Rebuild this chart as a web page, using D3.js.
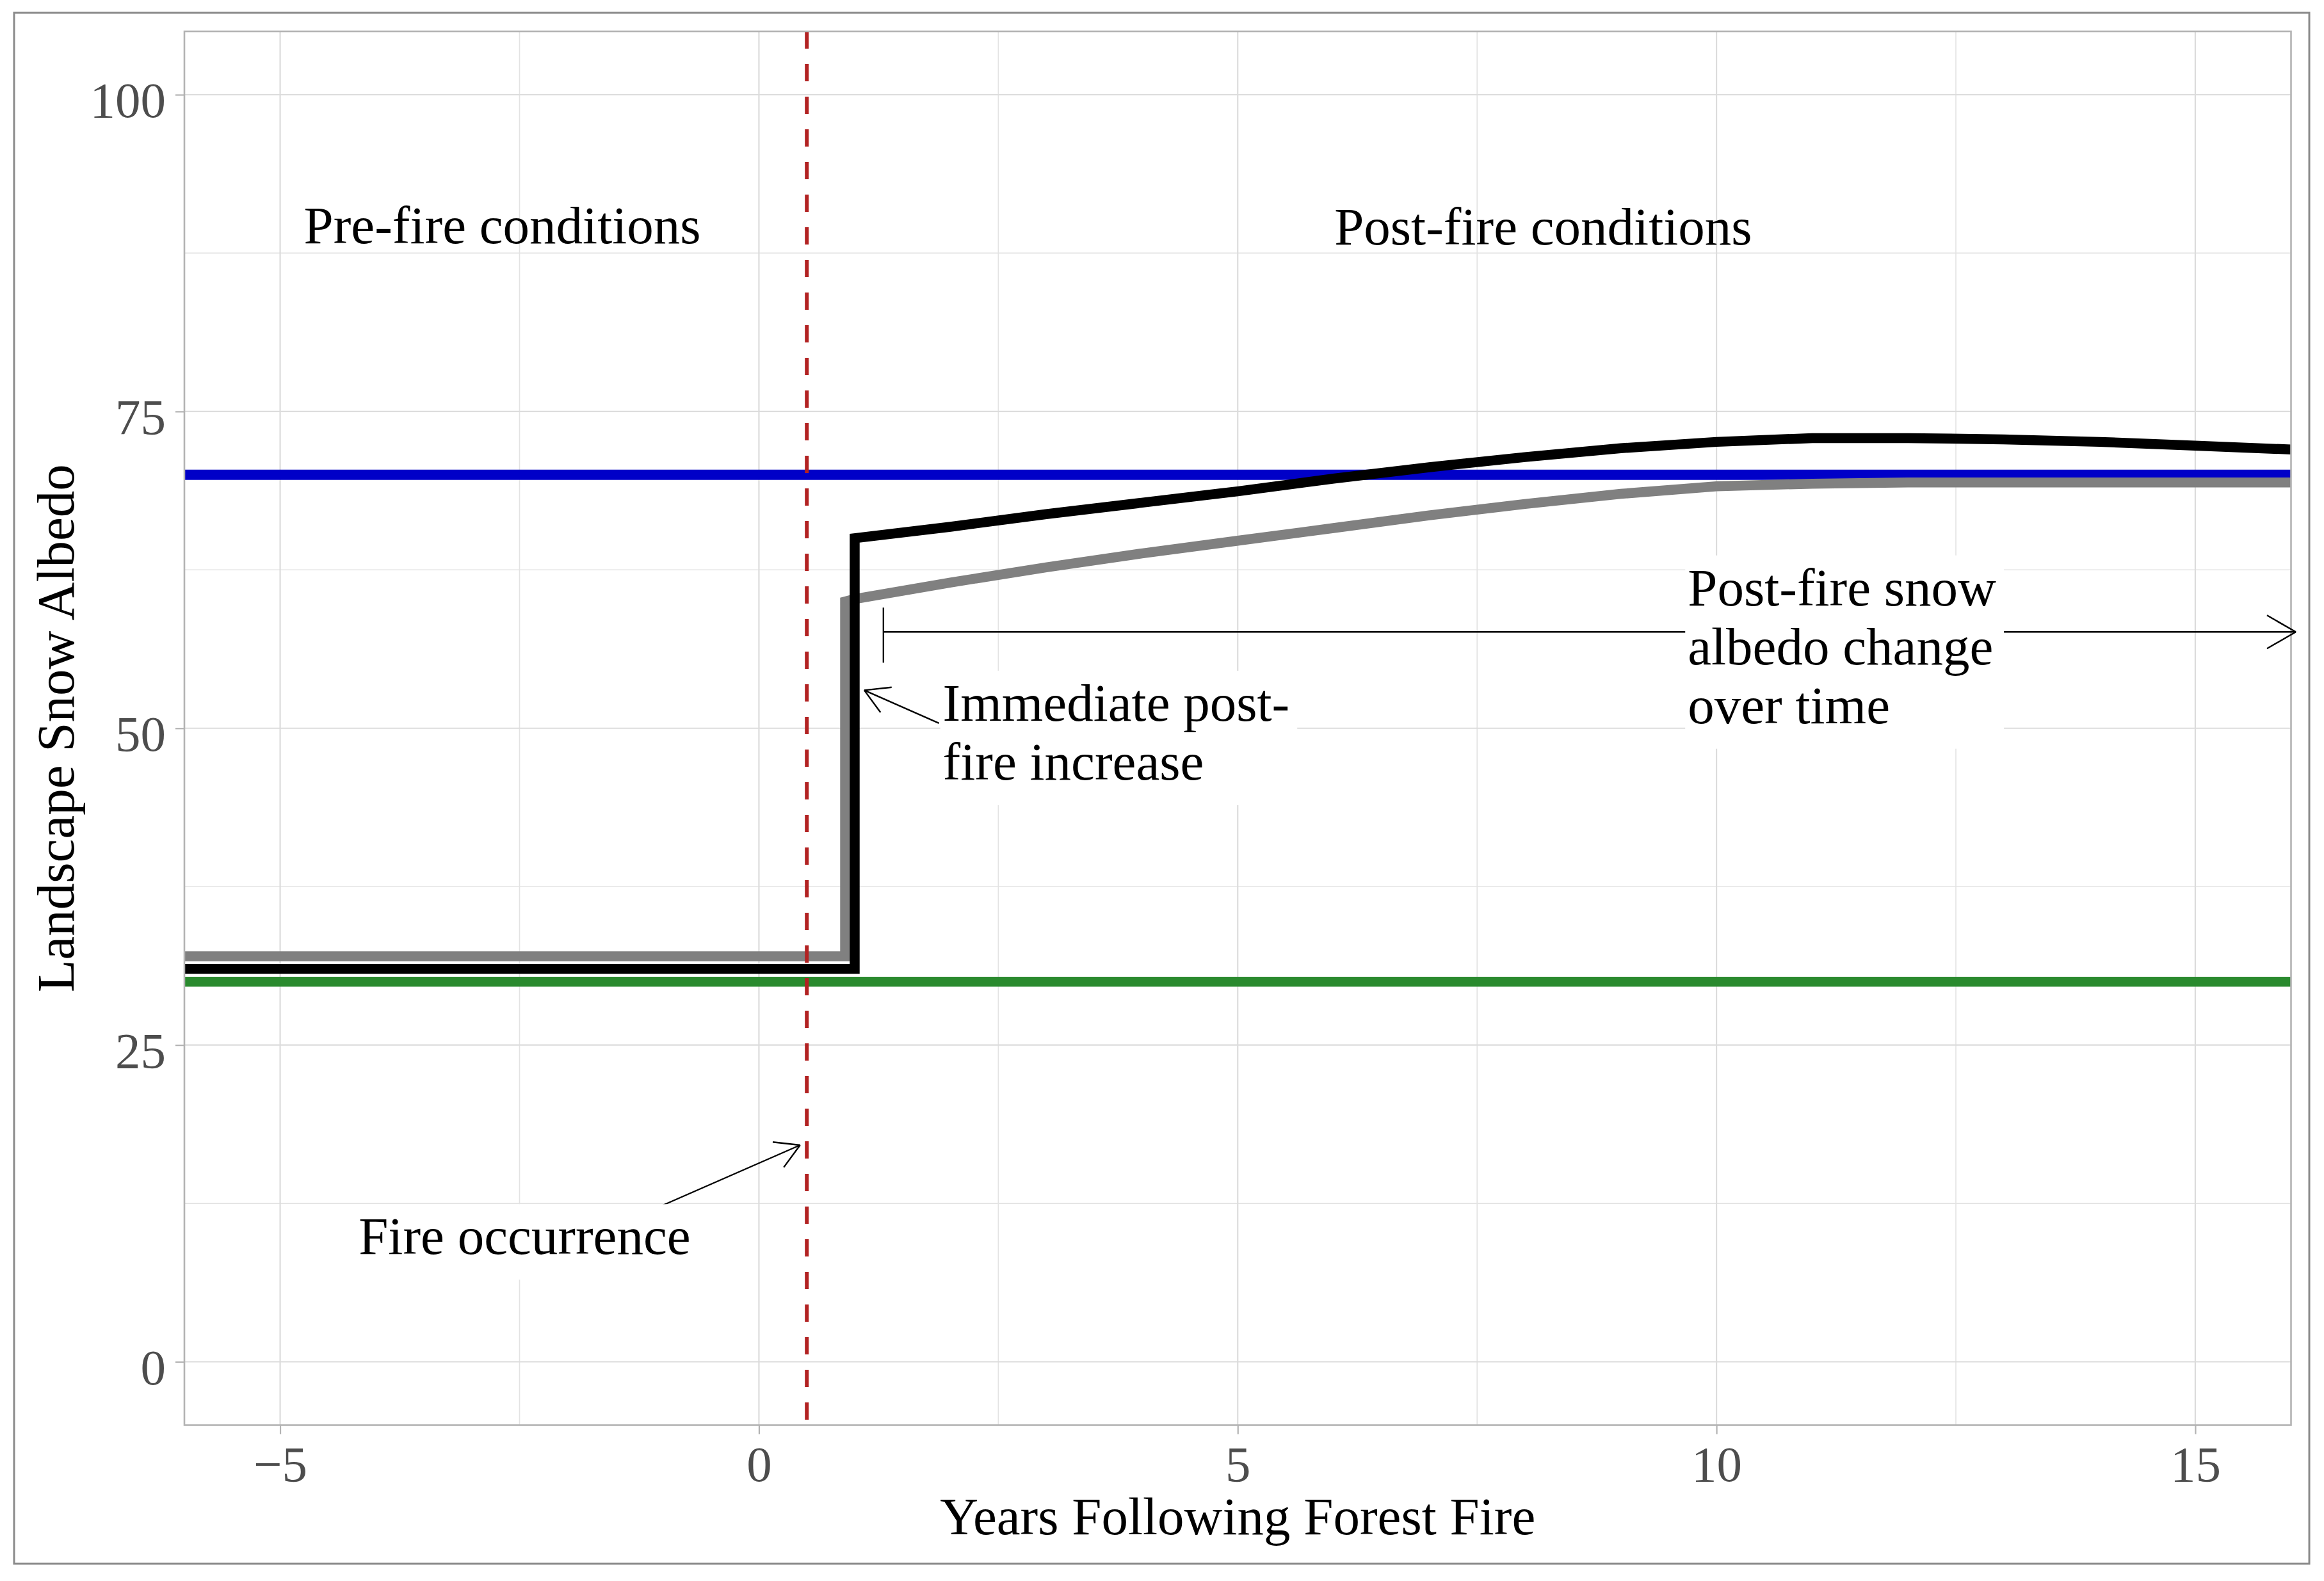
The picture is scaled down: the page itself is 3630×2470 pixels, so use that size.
<!DOCTYPE html>
<html>
<head>
<meta charset="utf-8">
<script src="https://cdn.jsdelivr.net/npm/d3@7"></script>
<style>
  html, body { margin: 0; padding: 0; background: #fff; }
  svg { display: block; font-family: "Liberation Serif", "Times New Roman", serif; }
</style>
</head>
<body>
<svg id="chart" width="3630" height="2470"></svg>
<script>
// axis breaks
const xTicks = [-5, 0, 5, 10, 15];
const yTicks = [0, 25, 50, 75, 100];
const xMinor = [-2.5, 2.5, 7.5, 12.5];
const yMinor = [12.5, 37.5, 62.5, 87.5];

// reference levels
const fireYear = 0.5;
const openAlbedo = 70;    // blue line
const forestAlbedo = 30;  // green line

// landscape albedo curves
const blackYears  = [-6, 1.0, 1.0, 2, 3, 4, 5, 6, 7, 8, 9, 10, 11, 12, 13, 14, 15, 16];
const blackAlbedo = [31, 31, 65.0, 65.9, 66.9, 67.8, 68.7, 69.7, 70.6, 71.4, 72.1, 72.6, 72.9, 72.9, 72.8, 72.6, 72.3, 72.0];
const grayYears   = [-6, 0.9, 0.9, 1, 2, 3, 4, 5, 6, 7, 8, 9, 10, 11, 12, 13, 14, 15, 16];
const grayAlbedo  = [32, 32, 60.0, 60.2, 61.5, 62.7, 63.8, 64.8, 65.8, 66.8, 67.7, 68.5, 69.1, 69.3, 69.4, 69.4, 69.4, 69.4, 69.4];

// annotation text (x, y in data units; y is first baseline)
const notes = [
  { lines: ['Pre-fire conditions'], x: -2.68, y: 88.3, anchor: 'middle', box: false },
  { lines: ['Post-fire conditions'], x: 8.19, y: 88.2, anchor: 'middle', box: false },
  { lines: ['Fire occurrence'], x: -4.18, y: 8.5, anchor: 'start', box: true },
  { lines: ['Immediate post-', 'fire increase'], x: 1.92, y: 50.6, anchor: 'start', box: true },
  { lines: ['Post-fire snow', 'albedo change', 'over time'], x: 9.7, y: 59.7, anchor: 'start', box: true }
];
const arrows = [
  { x1: -1.05, y1: 12.2, x2: 0.43, y2: 17.1, bar: false },
  { x1: 1.88, y1: 50.4, x2: 1.10, y2: 53.0, bar: false },
  { x1: 1.30, y1: 57.6, x2: 16.05, y2: 57.6, bar: true }
];

let svg = d3.select('#chart');
let panel = { left: 288, right: 3578.5, top: 49, bottom: 2226.5 };

let x = d3.scaleLinear().domain([-6, 16]).range([panel.left, panel.right]);
let y = d3.scaleLinear().domain([-5, 105]).range([panel.bottom, panel.top]);

// outer frame
svg.append('rect')
	.attr('x', 22).attr('y', 20)
	.attr('width', 3585).attr('height', 2423)
	.attr('fill', '#fff')
	.attr('stroke', '#8a8a8a')
	.attr('stroke-width', 3);

// grid
let grid = svg.append('g');
grid.selectAll('.vminor').data(xMinor).enter().append('line')
	.attr('x1', d => x(d)).attr('x2', d => x(d))
	.attr('y1', panel.top).attr('y2', panel.bottom)
	.attr('stroke', '#e3e3e3').attr('stroke-width', 1.6);
grid.selectAll('.hminor').data(yMinor).enter().append('line')
	.attr('y1', d => y(d)).attr('y2', d => y(d))
	.attr('x1', panel.left).attr('x2', panel.right)
	.attr('stroke', '#e3e3e3').attr('stroke-width', 1.6);
grid.selectAll('.vmajor').data(xTicks).enter().append('line')
	.attr('x1', d => x(d)).attr('x2', d => x(d))
	.attr('y1', panel.top).attr('y2', panel.bottom)
	.attr('stroke', '#dcdcdc').attr('stroke-width', 2.2);
grid.selectAll('.hmajor').data(yTicks).enter().append('line')
	.attr('y1', d => y(d)).attr('y2', d => y(d))
	.attr('x1', panel.left).attr('x2', panel.right)
	.attr('stroke', '#dcdcdc').attr('stroke-width', 2.2);

// axes
let xAxis = svg.append('g')
	.attr('transform', `translate(0,${panel.bottom})`)
	.call(d3.axisBottom(x).tickValues(xTicks).tickSize(14).tickPadding(16));
let yAxis = svg.append('g')
	.attr('transform', `translate(${panel.left},0)`)
	.call(d3.axisLeft(y).tickValues(yTicks).tickSize(14).tickPadding(14));
[xAxis, yAxis].forEach(a => {
	a.select('.domain').remove();
	a.selectAll('.tick line').attr('stroke', '#b3b3b3').attr('stroke-width', 2.2);
	a.selectAll('.tick text')
		.attr('fill', '#4d4d4d')
		.style('font-family', '"Liberation Serif", "Times New Roman", serif')
		.style('font-size', '79px');
});
xAxis.selectAll('.tick text').attr('dy', null).attr('y', 87);
yAxis.selectAll('.tick text').attr('dy', null).attr('y', 35).attr('x', -29);

// data lines
svg.append('clipPath').attr('id', 'clip')
	.append('rect')
	.attr('x', panel.left).attr('y', panel.top)
	.attr('width', panel.right - panel.left).attr('height', panel.bottom - panel.top);

let plot = svg.append('g').attr('clip-path', 'url(#clip)');
let line = d3.line().x(d => x(d[0])).y(d => y(d[1]));

plot.append('line')
	.attr('x1', panel.left).attr('x2', panel.right)
	.attr('y1', y(forestAlbedo)).attr('y2', y(forestAlbedo))
	.attr('stroke', '#2a8a2e').attr('stroke-width', 15.5);
plot.append('line')
	.attr('x1', panel.left).attr('x2', panel.right)
	.attr('y1', y(openAlbedo)).attr('y2', y(openAlbedo))
	.attr('stroke', '#0000c8').attr('stroke-width', 16);

plot.append('path')
	.datum(d3.zip(grayYears, grayAlbedo))
	.attr('d', line)
	.attr('fill', 'none')
	.attr('stroke', '#808080')
	.attr('stroke-width', 15.5)
	.attr('stroke-linejoin', 'miter');
plot.append('path')
	.datum(d3.zip(blackYears, blackAlbedo))
	.attr('d', line)
	.attr('fill', 'none')
	.attr('stroke', '#000')
	.attr('stroke-width', 15.5)
	.attr('stroke-linejoin', 'miter');

// fire year
svg.append('line')
	.attr('x1', x(fireYear)).attr('x2', x(fireYear))
	.attr('y1', panel.top).attr('y2', panel.bottom)
	.attr('stroke', '#b22222')
	.attr('stroke-width', 6)
	.attr('stroke-dasharray', '27,24');

// panel border
svg.append('rect')
	.attr('x', panel.left).attr('y', panel.top)
	.attr('width', panel.right - panel.left).attr('height', panel.bottom - panel.top)
	.attr('fill', 'none')
	.attr('stroke', '#b3b3b3')
	.attr('stroke-width', 2.6);

// arrows
let arrowG = svg.append('g').attr('stroke', '#000').attr('stroke-width', 2.4).attr('fill', 'none');
arrows.forEach(a => {
	let x1 = x(a.x1), y1 = y(a.y1), x2 = x(a.x2), y2 = y(a.y2);
	arrowG.append('line').attr('x1', x1).attr('y1', y1).attr('x2', x2).attr('y2', y2);
	let ang = Math.atan2(y2 - y1, x2 - x1);
	let len = a.bar ? 52 : 43;
	[-Math.PI / 6, Math.PI / 6].forEach(o => {
		arrowG.append('line')
			.attr('x1', x2).attr('y1', y2)
			.attr('x2', x2 - len * Math.cos(ang + o))
			.attr('y2', y2 - len * Math.sin(ang + o));
	});
	if (a.bar) {
		arrowG.append('line')
			.attr('x1', x1).attr('x2', x1)
			.attr('y1', y1 - 38).attr('y2', y1 + 48);
	}
});

// annotation labels
notes.forEach(n => {
	let g = svg.append('g');
	let t = g.append('text')
		.attr('x', x(n.x))
		.attr('y', y(n.y))
		.attr('text-anchor', n.anchor)
		.style('font-size', '83px')
		.attr('fill', '#000');
	n.lines.forEach((s, i) => {
		t.append('tspan')
			.attr('x', x(n.x))
			.attr('dy', i === 0 ? 0 : 92)
			.text(s);
	});
	if (n.box) {
		let b = t.node().getBBox();
		g.insert('rect', 'text')
			.attr('x', b.x - 4).attr('y', b.y - 4)
			.attr('width', b.width + 16).attr('height', b.height + 26)
			.attr('fill', '#fff');
	}
});

// axis titles
svg.append('text')
	.attr('x', (panel.left + panel.right) / 2)
	.attr('y', 2397)
	.attr('text-anchor', 'middle')
	.style('font-size', '83px')
	.text('Years Following Forest Fire');
svg.append('text')
	.attr('transform', `translate(115,${(panel.top + panel.bottom) / 2}) rotate(-90)`)
	.attr('text-anchor', 'middle')
	.style('font-size', '83px')
	.text('Landscape Snow Albedo');
</script>
</body>
</html>
